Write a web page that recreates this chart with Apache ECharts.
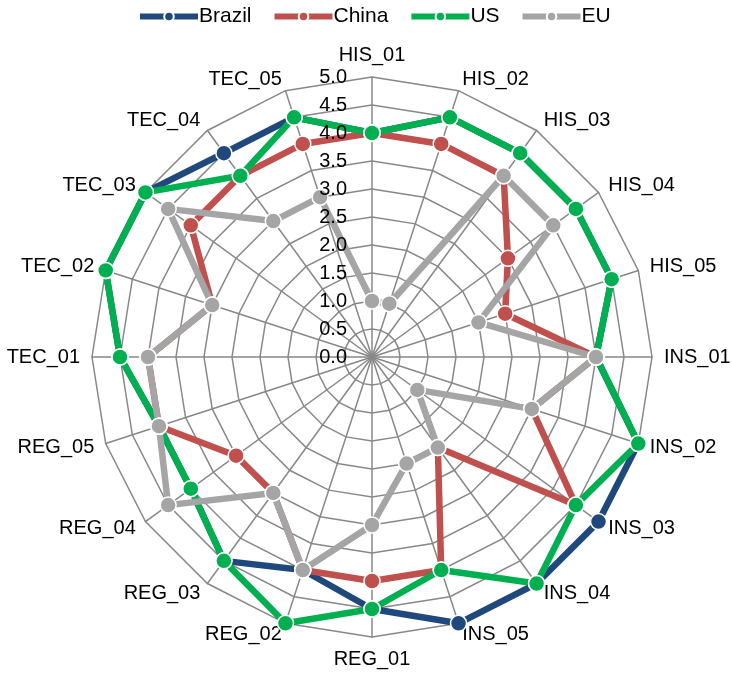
<!DOCTYPE html>
<html><head><meta charset="utf-8">
<script src="https://cdn.jsdelivr.net/npm/echarts@6/dist/echarts.min.js"></script>
<style>html,body{margin:0;padding:0;background:#fff}#c{width:732px;height:674px}</style>
</head><body><div id="c"></div>
<script>
const categories = ['HIS_01','HIS_02','HIS_03','HIS_04','HIS_05','INS_01','INS_02','INS_03','INS_04','INS_05','REG_01','REG_02','REG_03','REG_04','REG_05','TEC_01','TEC_02','TEC_03','TEC_04','TEC_05'];
const brazil = [4.0,4.5,4.5,4.5,4.5,4.0,5.0,5.0,5.0,5.0,4.5,4.0,4.5,4.0,4.0,4.5,5.0,5.0,4.5,4.5];
const china  = [4.0,4.0,4.0,3.0,2.5,4.0,3.0,4.5,2.0,4.0,4.0,4.0,3.0,3.0,4.0,4.0,3.0,4.0,4.0,4.0];
const us     = [4.0,4.5,4.5,4.5,4.5,4.0,5.0,4.5,5.0,4.0,4.5,5.0,4.5,4.0,4.0,4.5,5.0,5.0,4.0,4.5];
const eu     = [1.0,1.0,4.0,4.0,2.0,4.0,3.0,1.0,2.0,2.0,3.0,4.0,3.0,4.5,4.0,4.0,3.0,4.5,3.0,3.0];
const seriesNames = ['Brazil','China','US','EU'];
const seriesColors = ['#1F497D','#C0504D','#00B050','#A5A5A5'];
const seriesValues = [brazil, china, us, eu];
const axisMin = 0, axisMax = 5, axisStep = 0.5;

// ECharts radar runs counter-clockwise; reorder so categories run clockwise
const order = [0];
for (let i = categories.length - 1; i >= 1; i--) order.push(i);
const reorder = arr => order.map(i => arr[i]);

const chart = echarts.init(document.getElementById('c'));
const FONT = 'Liberation Sans, Arial, sans-serif';
const CENTER = [372, 357], RADIUS = 280;
const indicator = reorder(categories).map(n => ({ name: n, min: axisMin, max: axisMax }));
const series = [];
seriesNames.forEach((n, i) => {
  series.push({
    type: 'line', name: n, data: [], xAxisIndex: 0, yAxisIndex: 0,
    symbol: 'circle', color: seriesColors[i],
    lineStyle: { width: 6, color: seriesColors[i] },
    itemStyle: { color: seriesColors[i], borderColor: '#fff', borderWidth: 1.5 }
  });
});
seriesNames.forEach((n, i) => {
  series.push({
    type: 'radar', name: n, radarIndex: 0,
    symbol: 'circle', symbolSize: 16,
    lineStyle: { width: 6.5, color: seriesColors[i] },
    itemStyle: { color: seriesColors[i], borderColor: '#fff', borderWidth: 1.5 },
    emphasis: { disabled: true },
    data: [{ name: n, value: reorder(seriesValues[i]) }]
  });
});
chart.setOption({
  animation: false,
  grid: { show: false, left: 0, top: 0, width: 10, height: 10 },
  xAxis: { show: false, type: 'category', data: [] },
  yAxis: { show: false, type: 'value' },
  polar: { center: CENTER, radius: RADIUS },
  angleAxis: { show: false, type: 'value', min: 0, max: 360, startAngle: 90 },
  radiusAxis: {
    type: 'value', min: axisMin, max: axisMax, interval: axisStep, z: 10,
    axisLine: { show: false }, axisTick: { show: false }, splitLine: { show: false }, splitArea: { show: false },
    axisLabel: { show: true, color: '#000', fontFamily: FONT, fontSize: 20, margin: 25,
      formatter: v => Number(v).toFixed(1) }
  },
  legend: {
    data: seriesNames, top: 1, left: 132, itemWidth: 58, itemHeight: 12, itemGap: 20,
    textStyle: { fontFamily: FONT, fontSize: 21, color: '#000', padding: [0, 0, 0, -4] },
    lineStyle: { width: 6 }
  },
  radar: {
    center: CENTER, radius: RADIUS, startAngle: 90, shape: 'polygon', splitNumber: 10,
    indicator: indicator,
    axisName: { color: '#000', fontFamily: FONT, fontSize: 20 },
    nameGap: 12,
    axisLine: { show: true, lineStyle: { color: '#888', width: 1.5 } },
    splitLine: { show: true, lineStyle: { color: '#888', width: 1.5 } },
    splitArea: { show: false },
    axisTick: { show: false },
    axisLabel: { show: false }
  },
  series: series
});
</script></body></html>
